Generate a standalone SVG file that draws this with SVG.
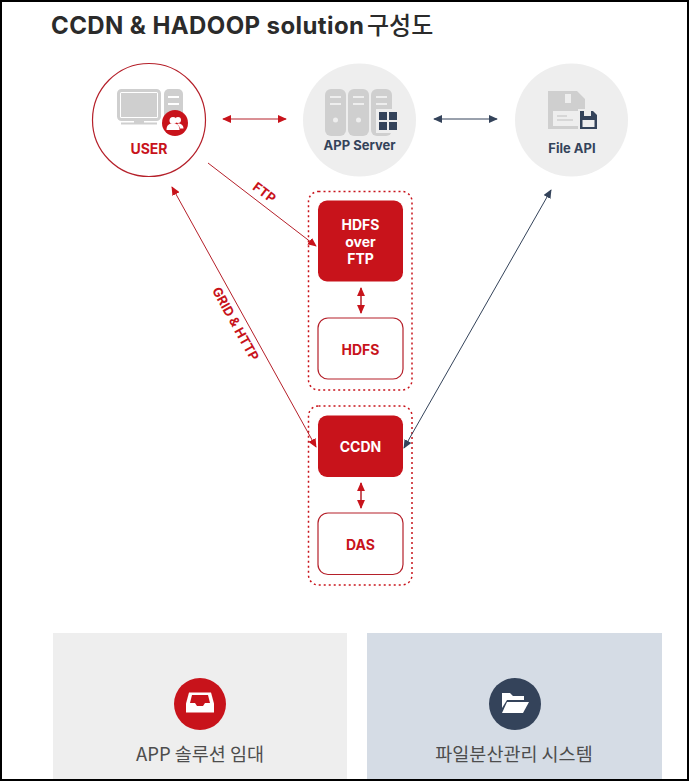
<svg xmlns="http://www.w3.org/2000/svg" width="689" height="781" viewBox="0 0 689 781">
<style>
text{font-family:Inter,"Noto Sans CJK KR",sans-serif;text-anchor:middle}
.w{fill:#fff;font-weight:700;font-size:14px}
.r{fill:#c8131b;font-weight:700;font-size:14px}
.n{fill:#34435a;font-weight:700;font-size:13px}
.lb{fill:#c8131b;font-weight:700;font-size:13px}
.cap{fill:#4d4d4d;font-size:18.5px;font-family:"Noto Sans CJK KR","Noto Sans",sans-serif}
.red{stroke:#b5202a;stroke-width:1;fill:none}
.navy{stroke:#34435a;stroke-width:1;fill:none}
.dot{fill:none;stroke:#c8131b;stroke-width:1.5;stroke-dasharray:2 3}
.g{fill:#cfcfcf}
</style>
<defs>
<marker id="ar" viewBox="0 0 10 10" refX="9" refY="5" markerWidth="9" markerHeight="8" markerUnits="userSpaceOnUse" orient="auto-start-reverse" preserveAspectRatio="none"><path d="M0 0L10 5L0 10Z" fill="#c8131b"/></marker>
<marker id="an" viewBox="0 0 10 10" refX="9" refY="5" markerWidth="9" markerHeight="8" markerUnits="userSpaceOnUse" orient="auto-start-reverse" preserveAspectRatio="none"><path d="M0 0L10 5L0 10Z" fill="#34435a"/></marker>
</defs>
<rect width="689" height="781" fill="#fff"/>
<text id="title" x="51" y="34" style="text-anchor:start;font-size:24px;font-weight:700;letter-spacing:.4px" fill="#2b2b2b">CCDN &amp; HADOOP solution<tspan font-weight="500" x="367" style="letter-spacing:0">구성도</tspan></text>

<g id="user">
<circle cx="149" cy="120" r="56.500" fill="#fff" stroke="#b5202a" stroke-width="1.200"/>
<rect x="118.500" y="90.500" width="41" height="29" rx="3" fill="#fff" stroke="#cfcfcf" stroke-width="3"/>
<rect x="121" y="93" width="36" height="24" fill="#cfcfcf"/>
<rect x="134" y="120" width="10" height="3" class="g"/><rect x="121" y="122.500" width="36" height="2" class="g"/>
<rect x="164" y="89" width="19" height="34" rx="5" class="g"/>
<rect x="168" y="96" width="11" height="2" fill="#fff"/><rect x="168" y="103" width="11" height="2" fill="#fff"/>
<circle cx="175" cy="123" r="13" fill="#c8131b"/>
<circle cx="173" cy="120.500" r="3.500" fill="#fff"/><path d="M166.500 130c0-5 2.500-6.500 6.500-6.500s6.500 1.500 6.500 6.500z" fill="#fff"/>
<circle cx="178" cy="120" r="3" fill="#fff"/><path d="M178 123.500c3 0 5.500 1.500 5.500 5h-3.500c-.5-2-1.500-3.500-3-4z" fill="#fff"/>
<text x="149" y="154" class="r">USER</text>
</g>

<g id="app-server">
<circle cx="359.500" cy="120" r="56.500" fill="#eeeeee"/>
<rect x="325" y="89" width="21" height="47" rx="6" class="g"/><rect x="348" y="89" width="21" height="47" rx="6" class="g"/><rect x="371" y="89" width="21" height="47" rx="6" class="g"/>
<path d="M330 97h11M330 104h11M353 97h11M353 104h11M376 97h11M376 104h11" stroke="#eee" stroke-width="2"/>
<circle cx="335.500" cy="120" r="2.500" fill="#eee"/><circle cx="358.500" cy="120" r="2.500" fill="#eee"/>
<rect x="376" y="109" width="22" height="24" fill="#eee"/>
<path d="M379 112h8v8h-8zM389 112h8v8h-8zM379 122h8v8h-8zM389 122h8v8h-8z" fill="#34435a"/>
<text x="359.500" y="150" class="n">APP Server</text>
</g>

<g id="file-api">
<circle cx="571.500" cy="120" r="56.500" fill="#eeeeee"/>
<path d="M548 91h29l8 8v30h-37z" class="g"/>
<rect x="565" y="94" width="6" height="9" fill="#eee"/>
<rect x="553" y="111" width="26" height="15" fill="#eee"/>
<path d="M557 116h10M557 120h16" stroke="#cfcfcf" stroke-width="1.500"/>
<rect x="578" y="109" width="20" height="21" fill="#eee"/>
<path d="M580 111h13l4 4v14h-17z" fill="#34435a"/>
<rect x="584" y="111" width="7" height="5" fill="#eee"/><rect x="582.500" y="120" width="12" height="7" fill="#eee"/>
<text x="572" y="153" class="n">File API</text>
</g>

<g id="group-hdfs"><rect x="308.500" y="191.500" width="103.500" height="198.500" rx="10" class="dot"/></g>
<g id="hdfs-over-ftp">
<rect x="318" y="200.500" width="85" height="81" rx="9" fill="#c8131b"/>
<text x="360.500" y="230" class="w">HDFS</text><text x="360.500" y="247" class="w">over</text><text x="360.500" y="264" class="w">FTP</text>
</g>
<g id="hdfs">
<rect x="318" y="318" width="85" height="61" rx="10" fill="#fff" stroke="#b5202a" stroke-width="1.200"/>
<text x="360.500" y="355" class="r">HDFS</text>
</g>
<g id="group-ccdn"><rect x="308.500" y="406" width="103.500" height="179" rx="10" class="dot"/></g>
<g id="ccdn">
<rect x="318" y="415.500" width="85" height="61.500" rx="9" fill="#c8131b"/>
<text x="360.500" y="452" class="w">CCDN</text>
</g>
<g id="das">
<rect x="318" y="513" width="85" height="61.500" rx="10" fill="#fff" stroke="#b5202a" stroke-width="1.200"/>
<text x="360.500" y="550" class="r">DAS</text>
</g>

<g id="connectors">
<path d="M223 119H286" class="red" marker-start="url(#ar)" marker-end="url(#ar)"/>
<path d="M434 119H497" class="navy" marker-start="url(#an)" marker-end="url(#an)"/>
<path d="M208 163L316 246" class="red" marker-end="url(#ar)"/>
<path d="M172 187L316 447" class="red" marker-start="url(#ar)" marker-end="url(#ar)"/>
<path d="M551 190L404 448" class="navy" marker-start="url(#an)" marker-end="url(#an)"/>
<path d="M361 288V313" class="red" style="stroke-width:1.500" marker-start="url(#ar)" marker-end="url(#ar)"/>
<path d="M361 483V508" class="red" style="stroke-width:1.500" marker-start="url(#ar)" marker-end="url(#ar)"/>
<text x="264" y="197" class="lb" transform="rotate(37 264 193)">FTP</text>
<text x="235" y="328" class="lb" transform="rotate(61 235 324)">GRID &amp; HTTP</text>
</g>

<g id="card-app">
<rect x="53" y="633" width="294" height="148" fill="#eeeeee"/>
<circle cx="200" cy="704" r="26" fill="#c8131b"/>
<path d="M189 692.500h22l3 11v9h-28v-9z" fill="#fff"/>
<path d="M192 695h16l2 8h-5l-2 3h-6l-2-3h-5z" fill="#c8131b"/>
<text x="200" y="761" class="cap">APP 솔루션 임대</text>
</g>
<g id="card-file">
<rect x="367" y="633" width="295" height="148" fill="#d5dce5"/>
<circle cx="515" cy="704" r="26" fill="#34435a"/>
<path d="M502 693h8l3 3h11v4h-17l-5 8z" fill="#fff"/>
<path d="M507 702h22l-6 11h-21z" fill="#fff"/>
<text x="514" y="761" class="cap">파일분산관리 시스템</text>
</g>
<path id="frame" d="M1 781V1H688V781M0 780H689" fill="none" stroke="#000" stroke-width="2"/>
</svg>
